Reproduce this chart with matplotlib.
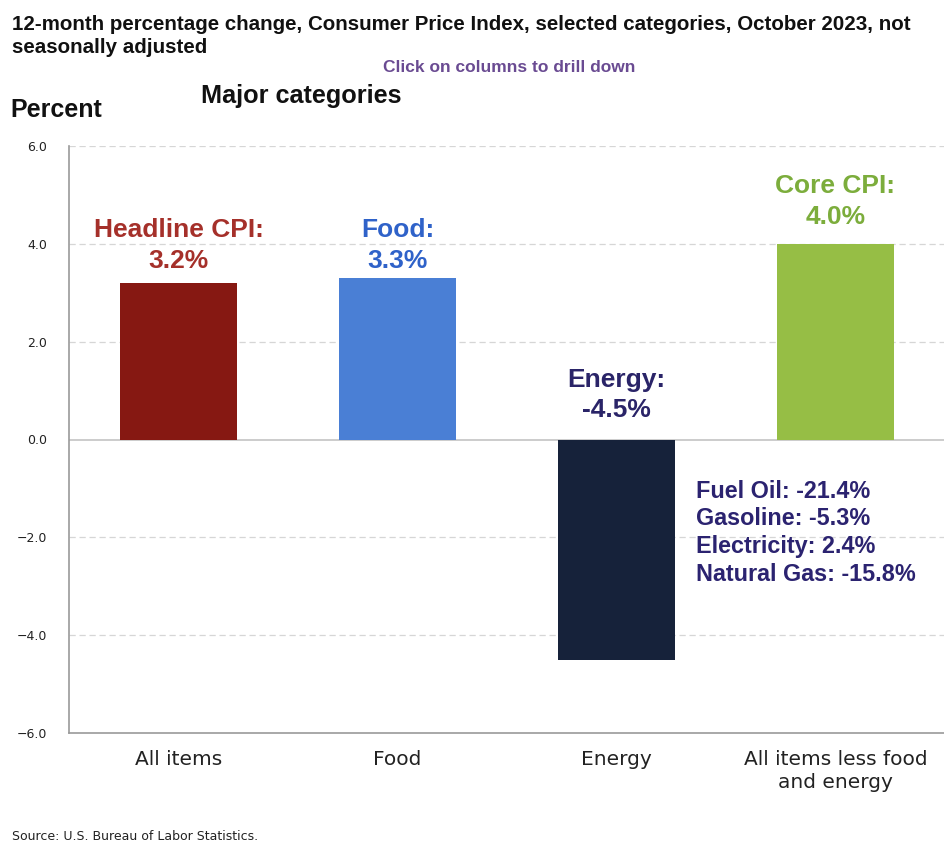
import matplotlib
matplotlib.use("Agg")
import matplotlib.pyplot as plt

# CPI 12-month percent change, October 2023, not seasonally adjusted
categories = ["All items", "Food", "Energy", "All items less food\nand energy"]
label_names = ["Headline CPI", "Food", "Energy", "Core CPI"]
values = [3.2, 3.3, -4.5, 4.0]
energy_parts = ["Fuel Oil", "Gasoline", "Electricity", "Natural Gas"]
energy_values = [-21.4, -5.3, 2.4, -15.8]
y_ticks = [-6.0, -4.0, -2.0, 0.0, 2.0, 4.0, 6.0]

bar_colors = ["#861812", "#4A7FD5", "#16223A", "#96BE45"]
text_colors = ["#A5302A", "#2F62C9", "#2A2468", "#7CAD3C"]
label_gap_pt = [7.5, 4, 12.5, 11]   # space between each label and its column
energy_text_color = "#2B2370"

BOLD = ["Liberation Sans", "DejaVu Sans"]

fig = plt.figure(figsize=(9.45, 8.43), dpi=100)
ax = fig.add_axes([69 / 945, 1 - 733 / 843, 1 - 69 / 945, (733 - 146) / 843])

x = list(range(len(categories)))
ax.bar(x, values, width=0.53, color=bar_colors, zorder=3)

ax.set_xlim(-0.5, 3.5)
ax.set_ylim(y_ticks[0], y_ticks[-1])
ax.set_yticks(y_ticks)
ax.set_yticklabels([f"{t:.1f}".replace("-", "\u2212") for t in y_ticks],
                   fontsize=9, color="#222222", family="DejaVu Sans")
ax.set_xticks(x)
ax.set_xticklabels(categories, fontsize=14.5, color="#222222", family="DejaVu Sans",
                   linespacing=1.28)
ax.tick_params(axis="both", length=0)
ax.tick_params(axis="y", pad=15.5)
ax.tick_params(axis="x", pad=12)

for t in y_ticks:
    if t in (0.0, y_ticks[0]):
        continue
    ax.axhline(t, color="#D6D6D6", lw=0.9, ls=(0, (5, 3)), zorder=1)
ax.axhline(0, color="#C8C8C8", lw=1.3, zorder=2)

for side in ("top", "right"):
    ax.spines[side].set_visible(False)
for side in ("left", "bottom"):
    ax.spines[side].set_color("#9A9A9A")
    ax.spines[side].set_linewidth(1.2)

# Value labels above each column (or above zero for negatives)
for xi, v, name, c, gap in zip(x, values, label_names, text_colors, label_gap_pt):
    ax.annotate(f"{name}:\n{v:.1f}%", xy=(xi, max(v, 0)), xytext=(0, gap),
                textcoords="offset points", ha="center", va="bottom",
                fontsize=19, fontweight="bold", color=c, family=BOLD,
                linespacing=1.33, zorder=4)

# Energy component breakdown
energy_lines = "\n".join(f"{n}: {v:.1f}%" for n, v in zip(energy_parts, energy_values))
ax.annotate(energy_lines, xy=(2, 0), xytext=(57, -29), textcoords="offset points",
            ha="left", va="top", fontsize=16.8, fontweight="bold",
            color=energy_text_color, family=BOLD, linespacing=1.26, zorder=4)

fig.text(12 / 945, 1 - 15 / 843,
         "12-month percentage change, Consumer Price Index, selected categories, October 2023, not\nseasonally adjusted",
         ha="left", va="top", fontsize=14.8, fontweight="bold", color="#111111",
         family=BOLD, linespacing=1.26)
fig.text(509 / 945, 1 - 68 / 843, "Click on columns to drill down", ha="center", va="center",
         fontsize=12.5, fontweight="bold", color="#6A4B92", family=BOLD)
fig.text(201 / 945, 1 - 96 / 843, "Major categories", ha="left", va="center",
         fontsize=18.2, fontweight="bold", color="#111111", family=BOLD)
fig.text(10 / 945, 1 - 110 / 843, "Percent", ha="left", va="center",
         fontsize=18, fontweight="bold", color="#111111", family=BOLD)
fig.text(12 / 945, 1 - 836 / 843, "Source: U.S. Bureau of Labor Statistics.", ha="left",
         va="center", fontsize=9, color="#222222", family="DejaVu Sans")

fig.savefig("out.png", dpi=100)
